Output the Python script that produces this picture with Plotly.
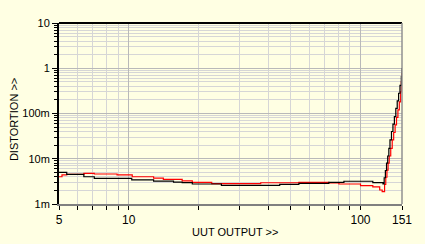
import plotly.graph_objects as go

# Data (UUT output vs distortion)
black_x = [5, 5.4, 6.4, 7.1, 10.3, 12.8, 15.6, 17.0, 18.8, 25.1, 44.8, 54.2, 73.0, 84.8,
           113, 125, 126.5, 128, 129.5, 131, 132.5, 134, 136, 138, 140, 142, 144, 146, 148, 150, 151]
black_y = [5.0e-3, 4.5e-3, 4.0e-3, 3.7e-3, 3.4e-3, 3.2e-3, 3.05e-3, 2.96e-3, 2.77e-3, 2.59e-3,
           2.72e-3, 2.86e-3, 3.02e-3, 3.18e-3, 2.96e-3, 2.77e-3, 3.8e-3, 5.5e-3, 8.0e-3, 11.5e-3,
           17e-3, 26e-3, 40e-3, 58e-3, 85e-3, 130e-3, 190e-3, 280e-3, 420e-3, 650e-3, 1.01]

red_x = [5, 5.15, 5.4, 6.4, 7.1, 8.9, 10.35, 12.8, 14.1, 17.0, 18.8, 22.8, 37.1, 54.2, 73.0,
         80.7, 100, 113, 121, 124, 127, 128.5, 130, 131.5, 133, 135, 137, 139, 141, 143, 145,
         147, 149, 150, 151]
red_y = [4.0e-3, 4.4e-3, 4.5e-3, 4.75e-3, 4.6e-3, 4.4e-3, 4.0e-3, 3.75e-3, 3.5e-3, 3.25e-3,
         3.0e-3, 2.81e-3, 2.95e-3, 3.02e-3, 2.91e-3, 2.77e-3, 2.56e-3, 2.38e-3, 2.04e-3,
         1.87e-3, 2.7e-3, 3.9e-3, 5.6e-3, 8.0e-3, 11.5e-3, 17e-3, 26e-3, 38e-3, 56e-3, 82e-3,
         120e-3, 180e-3, 300e-3, 500e-3, 0.785]

y_tickvals = [1e-3, 1e-2, 1e-1, 1, 10]
y_ticktext = ["1m", "10m", "100m", "1", "10"]
x_tickvals = [5, 10, 100, 151]
x_ticktext = ["5", "10", "100", "151"]
x_title = "UUT OUTPUT >>"
y_title = "DISTORTION >>"

bg = "#FFFFE3"
major_grid = "#B9B9B9"
minor_grid = "#D6D6D6"

y_minor = [m * 10 ** e for e in range(-3, 1) for m in range(2, 10)]
x_minor = [6, 7, 8, 9] + [m * 10 for m in range(2, 10)]

fig = go.Figure()
fig.add_trace(go.Scatter(x=red_x, y=red_y, mode="lines", line=dict(color="#FF0000", width=1.2, shape="hv"),
                         showlegend=False))
fig.add_trace(go.Scatter(x=black_x, y=black_y, mode="lines", line=dict(color="#000000", width=1.2, shape="hv"),
                         showlegend=False))

font = dict(family="Liberation Sans, Arial, sans-serif", size=11, color="black")

fig.update_layout(
    width=425, height=244,
    margin=dict(l=59, r=23, t=23, b=40, autoexpand=False),
    paper_bgcolor=bg, plot_bgcolor=bg,
    font=font,
    xaxis=dict(type="log", range=[0.69897, 2.17898], tickvals=x_tickvals, ticktext=x_ticktext,
               showgrid=True, gridcolor=major_grid, gridwidth=1, automargin=False,
               ticks="outside", ticklen=4, tickcolor="black",
               minor=dict(tickvals=x_minor, ticks="outside", ticklen=4, tickcolor="black",
                          showgrid=True, gridcolor=minor_grid, gridwidth=1),
               showline=True, linecolor="#808080", linewidth=2, zeroline=False,
               tickfont=dict(size=12)),
    yaxis=dict(type="log", range=[-3, 1], tickvals=y_tickvals, ticktext=y_ticktext,
               showgrid=True, gridcolor=major_grid, gridwidth=1, automargin=False,
               ticks="outside", ticklen=5, tickcolor="black",
               minor=dict(tickvals=y_minor, ticks="outside", ticklen=3, tickcolor="black",
                          showgrid=True, gridcolor=minor_grid, gridwidth=1),
               showline=True, linecolor="black", linewidth=2, zeroline=False,
               tickfont=dict(size=11)),
    annotations=[
        dict(text=x_title, xref="paper", yref="paper", x=0.513, y=-0.155,
             xanchor="center", yanchor="middle", showarrow=False, font=font),
        dict(text=y_title, xref="paper", yref="paper", x=-0.131, y=0.464, textangle=-90,
             xanchor="center", yanchor="middle", showarrow=False, font=font),
    ],
    shapes=[
        dict(type="line", xref="paper", yref="paper", x0=0, x1=1, y0=1, y1=1,
             line=dict(color="black", width=2)),
        dict(type="line", xref="paper", yref="paper", x0=1, x1=1, y0=0, y1=1,
             line=dict(color="#909090", width=1.5)),
    ],
)

fig.write_html("out.html")
